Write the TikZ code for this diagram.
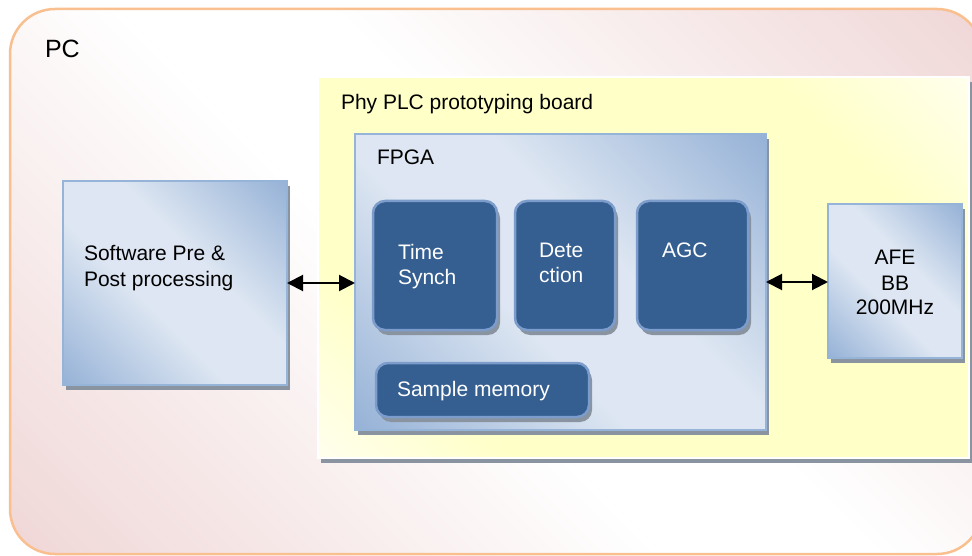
\documentclass[tikz,border=0pt]{standalone}
\usepackage{fontspec}
\setmainfont{Liberation Sans}
\usetikzlibrary{arrows.meta,shadows}

% palette
\definecolor{pcedge}{RGB}{250,191,143}
\definecolor{pcpink}{RGB}{240,215,215}
\definecolor{boardyellow}{RGB}{255,255,200}
\definecolor{paneldark}{RGB}{143,173,212}
\definecolor{panellight}{RGB}{221,230,242}
\definecolor{paneledge}{RGB}{150,179,216}
\definecolor{blockfill}{RGB}{54,95,145}
\definecolor{blockedge}{RGB}{124,156,203}
\definecolor{shadowgrey}{RGB}{138,148,160}

% diagonal fills (rotated by the shading angle)
\pgfdeclarehorizontalshading{pcshade}{100bp}{color(0bp)=(pcpink); color(15bp)=(pcpink); color(45bp)=(white); color(55bp)=(white); color(85bp)=(pcpink); color(100bp)=(pcpink)}
\pgfdeclarehorizontalshading{boardshade}{100bp}{color(0bp)=(white); color(8bp)=(white); color(28bp)=(boardyellow); color(72bp)=(boardyellow); color(92bp)=(white); color(100bp)=(white)}
\pgfdeclarehorizontalshading{panelshade}{100bp}{color(0bp)=(paneldark); color(12bp)=(paneldark); color(42bp)=(panellight); color(58bp)=(panellight); color(88bp)=(paneldark); color(100bp)=(paneldark)}

\begin{document}
\begin{tikzpicture}[x=1pt,y=-1pt,
  every node/.style={inner sep=0pt, outer sep=0pt},
  txt/.style={font=\fontsize{21}{25}\selectfont, text=black},
  whitetxt/.style={font=\fontsize{21}{25}\selectfont, text=white},
  boxshadow/.style={general shadow={fill=shadowgrey, shadow xshift=3pt, shadow yshift=-5pt}},
  pcbox/.style={rectangle, rounded corners=45pt, draw=pcedge, line width=2.5pt,
    shade, shading=pcshade, shading angle=45, anchor=north west},
  boardbox/.style={rectangle, draw=white, line width=1.5pt, boxshadow,
    shade, shading=boardshade, shading angle=45, anchor=north west},
  panel/.style={rectangle, draw=paneledge, line width=2pt, boxshadow,
    shade, shading=panelshade, shading angle=45, anchor=north west},
  block/.style={rectangle, rounded corners=12pt, draw=blockedge, line width=2.5pt,
    fill=blockfill, boxshadow, anchor=north west},
  link/.style={line width=2pt, {Triangle[length=16pt,width=16pt]}-{Triangle[length=16pt,width=16pt]}}
]
\useasboundingbox (0,0) rectangle (972,556);
\clip (0,0) rectangle (972,556);

% outer PC frame
\node[pcbox, minimum width=972pt, minimum height=545pt] (pc) at (10,9) {};
\node[txt, font=\fontsize{25}{30}\selectfont, anchor=base west] (pclabel) at (45,58) {PC};

% prototyping board
\node[boardbox, minimum width=651pt, minimum height=381pt] (board) at (318,77) {};
\node[txt, anchor=base west] (boardlabel) at (341,110) {Phy PLC prototyping board};

% software block on the PC
\node[panel, minimum width=224pt, minimum height=204pt] (sw) at (63,181) {};
\node[txt, anchor=base west] (swlabel) at (84,261)
  {\begin{tabular}[t]{@{}l@{}}Software Pre \&\\Post processing\end{tabular}};

% FPGA
\node[panel, minimum width=411pt, minimum height=296pt] (fpga) at (355,134) {};
\node[txt, anchor=base west] (fpgalabel) at (377,165) {FPGA};

% analogue front end
\node[panel, minimum width=134pt, minimum height=154pt] (afe) at (828,204) {};
\node[txt, anchor=base] (afelabel) at (895,265)
  {\begin{tabular}[t]{@{}c@{}}AFE\\BB\\200MHz\end{tabular}};

% FPGA blocks
\node[block, minimum width=124pt, minimum height=129pt] (ts) at (373,201) {};
\node[whitetxt, anchor=base west] (tslabel) at (398,259)
  {\begin{tabular}[t]{@{}l@{}}Time\\Synch\end{tabular}};

\node[block, minimum width=100pt, minimum height=129pt] (det) at (515,201) {};
\node[whitetxt, anchor=base west] (detlabel) at (539,258)
  {\begin{tabular}[t]{@{}l@{}}Dete\\ction\end{tabular}};

\node[block, minimum width=111pt, minimum height=129pt] (agc) at (637,201) {};
\node[whitetxt, anchor=base west] (agclabel) at (662,258) {AGC};

\node[block, minimum width=213pt, minimum height=54pt] (mem) at (376,363) {};
\node[whitetxt, anchor=base west] (memlabel) at (397,396) {Sample memory};

% links
\draw[link] (sw.east) -- (sw.east -| fpga.west);
\draw[link] (fpga.east) -- (fpga.east -| afe.west);
\end{tikzpicture}
\end{document}
